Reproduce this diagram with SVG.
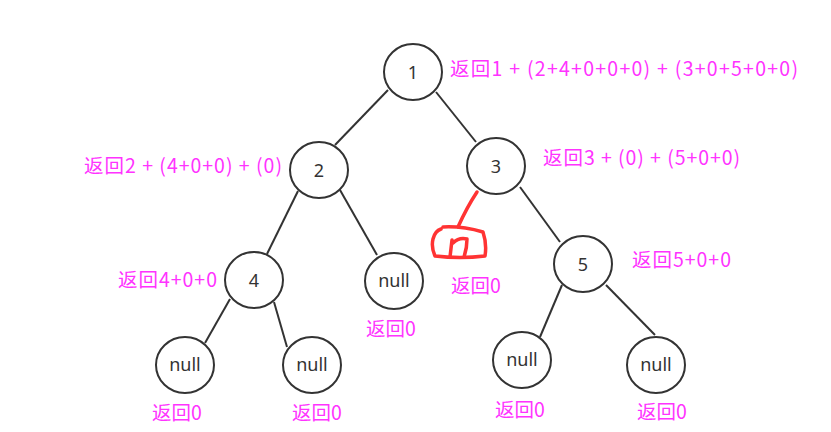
<svg xmlns="http://www.w3.org/2000/svg" width="831" height="432" viewBox="0 0 831 432">
  <style>
    .node ellipse { fill: #ffffff; stroke: #333333; stroke-width: 2; }
    .node text { font-family: "Noto Sans", "Open Sans", sans-serif; font-size: 18px; fill: #333333; text-anchor: middle; dominant-baseline: central; }
    .edges line { stroke: #333333; stroke-width: 2; }
    .ret { font-family: "Noto Sans CJK SC", "Microsoft YaHei", sans-serif; font-size: 19.5px; fill: #ff33ff; }
    .scribble { fill: none; stroke: #ff3333; stroke-width: 3.5; stroke-linecap: round; stroke-linejoin: round; }
  </style>
  <rect width="831" height="432" fill="#ffffff"/>

  <!-- tree edges -->
  <g id="edges" class="edges">
    <line x1="388" y1="90" x2="335" y2="145"/>
    <line x1="436" y1="92" x2="476" y2="142"/>
    <line x1="298" y1="191" x2="267" y2="254"/>
    <line x1="340" y1="190" x2="377" y2="255"/>
    <line x1="230" y1="299" x2="205" y2="343"/>
    <line x1="274" y1="302" x2="287" y2="347"/>
    <line x1="520" y1="187" x2="560" y2="242"/>
    <line x1="562" y1="285" x2="540" y2="337"/>
    <line x1="606" y1="285" x2="655" y2="335"/>
  </g>

  <!-- nodes -->
  <g id="n1" class="node"><ellipse cx="413" cy="72" rx="29" ry="28"/><text x="413" y="72">1</text></g>
  <g id="n2" class="node"><ellipse cx="319" cy="170" rx="29" ry="28"/><text x="319" y="170">2</text></g>
  <g id="n3" class="node"><ellipse cx="496" cy="166" rx="29" ry="28"/><text x="496" y="166">3</text></g>
  <g id="n4" class="node"><ellipse cx="254" cy="280" rx="29" ry="28"/><text x="254" y="280">4</text></g>
  <g id="n5" class="node"><ellipse cx="583" cy="264" rx="29" ry="28"/><text x="583" y="264">5</text></g>
  <g id="null2r" class="node"><ellipse cx="394" cy="281" rx="29" ry="28"/><text x="394" y="280">null</text></g>
  <g id="null4l" class="node"><ellipse cx="185" cy="365" rx="29" ry="28"/><text x="185" y="364">null</text></g>
  <g id="null4r" class="node"><ellipse cx="312" cy="365" rx="29" ry="28"/><text x="312" y="364">null</text></g>
  <g id="null5l" class="node"><ellipse cx="522" cy="360" rx="29" ry="28"/><text x="522" y="359">null</text></g>
  <g id="null5r" class="node"><ellipse cx="656" cy="365" rx="29" ry="28"/><text x="656" y="364">null</text></g>

  <!-- hand-drawn null marker under node 3 -->
  <g id="marker3l">
    <path class="scribble" d="M477,192 Q467,207 458,227"/>
    <path class="scribble" d="M443,227 Q462,226 483,232 Q487,244 485,256 Q460,259 435,256 Q431,247 433,239 Q435,231 441,229"/>
    <path class="scribble" d="M452,240 L450,257 M453,243 Q459,237 467,239 Q467,248 464,257"/>
  </g>

  <!-- return values -->
  <g id="labels">
    <text class="ret" x="450" y="76" textLength="348" lengthAdjust="spacing">返回1 + (2+4+0+0+0) + (3+0+5+0+0)</text>
    <text class="ret" x="84" y="173" textLength="198" lengthAdjust="spacing">返回2 + (4+0+0) + (0)</text>
    <text class="ret" x="543" y="165" textLength="197" lengthAdjust="spacing">返回3 + (0) + (5+0+0)</text>
    <text class="ret" x="118" y="287" textLength="99" lengthAdjust="spacing">返回4+0+0</text>
    <text class="ret" x="632" y="267" textLength="99" lengthAdjust="spacing">返回5+0+0</text>
    <text class="ret" x="366" y="336">返回0</text>
    <text class="ret" x="451" y="293">返回0</text>
    <text class="ret" x="152" y="420">返回0</text>
    <text class="ret" x="292" y="420">返回0</text>
    <text class="ret" x="495" y="417">返回0</text>
    <text class="ret" x="637" y="419">返回0</text>
  </g>
</svg>
